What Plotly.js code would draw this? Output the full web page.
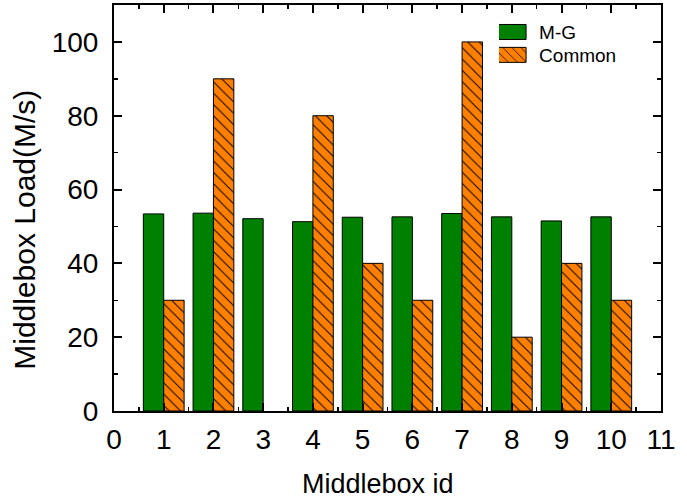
<!DOCTYPE html>
<html>
<head>
<meta charset="utf-8">
<script src="https://cdn.plot.ly/plotly-3.0.1.min.js"></script>
<style>html,body{margin:0;padding:0;background:#fff;}#chart{width:687px;height:500px;}</style>
</head>
<body>
<div id="chart"></div>
<script>
const middleboxIds = [1, 2, 3, 4, 5, 6, 7, 8, 9, 10];
const mgLoad = [53.4, 53.6, 52.1, 51.3, 52.5, 52.6, 53.5, 52.6, 51.5, 52.6];
const commonLoad = [30, 90, 0, 80, 40, 30, 100, 20, 40, 30];
const xTickVals = [0, 1, 2, 3, 4, 5, 6, 7, 8, 9, 10, 11];
const yTickVals = [0, 20, 40, 60, 80, 100];
const seriesNames = ['M-G', 'Common'];
const xTitle = 'Middlebox id';
const yTitle = 'Middlebox Load(M/s)';

const FONT = 'Liberation Sans, Arial, sans-serif';

const traces = [
  {
    type: 'bar', name: seriesNames[0], x: middleboxIds, y: mgLoad,
    offsetgroup: 'a', legend: 'legend',
    marker: {color: '#008000', line: {color: '#000', width: 1}}
  },
  {
    type: 'bar', name: seriesNames[1], x: middleboxIds, y: commonLoad,
    offsetgroup: 'b', legend: 'legend2',
    marker: {color: '#FF8000',
      line: {color: '#000', width: commonLoad.map(v => v > 0 ? 1 : 0)},
      pattern: {shape: '\\', fgcolor: '#000', bgcolor: '#FF8000', size: 8, solidity: 0.12}}
  }
];

const axisCommon = {
  showline: true, linecolor: '#000', linewidth: 2, mirror: 'ticks',
  ticks: 'inside', ticklen: 8, tickwidth: 2, tickcolor: '#000',
  showgrid: false, zeroline: false,
  tickfont: {family: FONT, size: 28, color: '#000'}
};

const legendCommon = {
  xanchor: 'left', yanchor: 'top',
  bgcolor: 'rgba(0,0,0,0)', borderwidth: 0,
  font: {family: FONT, size: 19, color: '#000'},
  itemwidth: 30
};

const layout = {
  width: 687, height: 500,
  margin: {l: 114, r: 26, t: 5, b: 89},
  paper_bgcolor: '#fff', plot_bgcolor: '#fff',
  barmode: 'group', bargap: 0.18, bargroupgap: 0,
  showlegend: true,
  legend: Object.assign({}, legendCommon, {x: 0.704, y: 0.980}),
  legend2: Object.assign({}, legendCommon, {x: 0.704, y: 0.9236}),
  xaxis: Object.assign({}, axisCommon, {
    range: [0, 11], tickmode: 'array', tickvals: xTickVals,
    ticktext: xTickVals.map(String), ticklabelstandoff: 2,
    minor: {ticks: 'inside', ticklen: 4, tickwidth: 1.5, tickcolor: '#000', dtick: 0.5, tick0: 0}
  }),
  yaxis: Object.assign({}, axisCommon, {
    range: [0, 110], tickmode: 'array', tickvals: yTickVals, ticklabelstandoff: 8,
    minor: {ticks: 'inside', ticklen: 4, tickwidth: 1.5, tickcolor: '#000', dtick: 10, tick0: 0}
  }),
  annotations: [
    {text: xTitle, xref: 'paper', yref: 'paper', x: 0.4826, y: -0.181,
     xanchor: 'center', yanchor: 'middle', showarrow: false,
     font: {family: FONT, size: 27, color: '#000'}},
    {text: yTitle, xref: 'paper', yref: 'paper', x: -0.163, y: 0.446,
     xanchor: 'center', yanchor: 'middle', textangle: -90, showarrow: false,
     font: {family: FONT, size: 30, color: '#000'}}
  ]
};

Plotly.newPlot('chart', traces, layout, {displayModeBar: false, staticPlot: true}).then(gd => {
  // widen legend swatches to match the reference's wide rectangles
  gd.querySelectorAll('.legendpoints path').forEach(p => {
    p.setAttribute('d', 'M7,7.5H-34V-7.5H7Z');
  });
});
</script>
</body>
</html>
